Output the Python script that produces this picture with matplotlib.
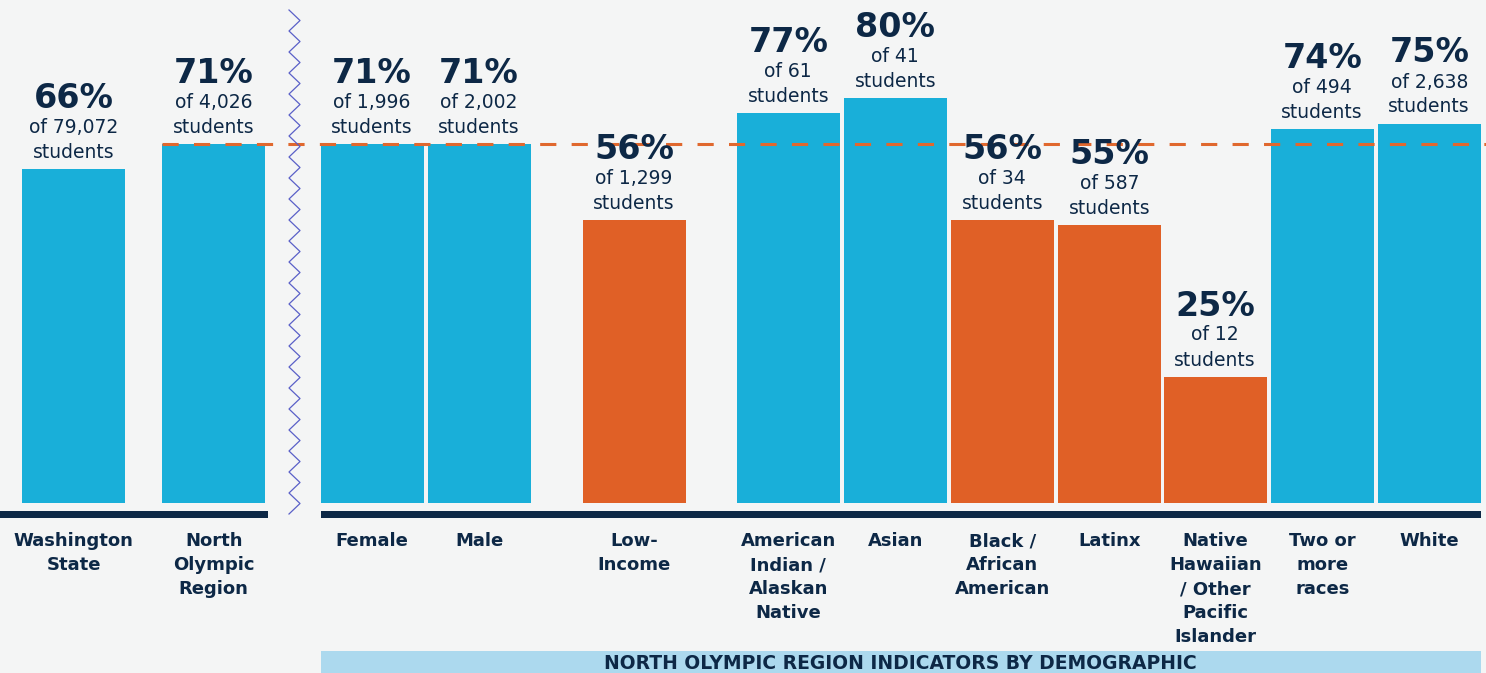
import matplotlib.pyplot as plt
from matplotlib.patches import Rectangle
import numpy as np

# data
categories = ["Washington\nState", "North\nOlympic\nRegion", "Female", "Male",
              "Low-\nIncome", "American\nIndian /\nAlaskan\nNative", "Asian",
              "Black /\nAfrican\nAmerican", "Latinx",
              "Native\nHawaiian\n/ Other\nPacific\nIslander",
              "Two or\nmore\nraces", "White"]
pct = [66, 71, 71, 71, 56, 77, 80, 56, 55, 25, 74, 75]
counts = ["79,072", "4,026", "1,996", "2,002", "1,299", "61", "41", "34",
          "587", "12", "494", "2,638"]
region_pct = 71
band_title = "NORTH OLYMPIC REGION INDICATORS BY DEMOGRAPHIC"

# layout / style
xpos = [0, 1.31, 2.79, 3.79, 5.24, 6.68, 7.68, 8.68, 9.68, 10.67, 11.67, 12.67]
BLUE = '#19afd9'
ORANGE = '#e06026'
NAVY = '#0d2846'
BG = '#f4f5f5'
colors = [BLUE, BLUE, BLUE, BLUE, ORANGE, BLUE, BLUE, ORANGE, ORANGE, ORANGE, BLUE, BLUE]
width = 0.963

fig = plt.figure(figsize=(14.86, 6.73), dpi=100, facecolor=BG)
ax = fig.add_axes([0, 0, 1, 1])
ax.set_facecolor(BG)
ax.axis('off')

px_x = 107.0   # pixels per slot
px_y = 5.06    # pixels per percent
xmin = -73.5 / px_x
ax.set_xlim(xmin, xmin + 1486 / px_x)
ax.set_ylim(-(673 - 503) / px_y, 503 / px_y)

ax.bar(xpos, pct, width=width, color=colors, zorder=2)

# region reference line
ax.plot([xpos[1] - width / 2, xmin + 1486 / px_x], [region_pct, region_pct],
        color='#e0682e', lw=2.2, dashes=(5.3, 5.0), zorder=3)

# baselines
yb0, yb1 = -(518 - 503) / px_y, -(511 - 503) / px_y
ax.add_patch(Rectangle((xmin, yb0), xpos[1] + width / 2 + 0.03 - xmin, yb1 - yb0,
                       color=NAVY, lw=0, zorder=3))
ax.add_patch(Rectangle((xpos[2] - width / 2, yb0), xpos[-1] - xpos[2] + width, yb1 - yb0,
                       color=NAVY, lw=0, zorder=3))

# zigzag break marker
zx = (294.5 - 73.5) / px_x
amp = 5.5 / px_x
zy = np.arange(10, 516, 10.5)
zyv = (503 - zy) / px_y
zxv = zx + amp * np.where(np.arange(len(zy)) % 2 == 0, -1, 1)
ax.plot(zxv, zyv, color='#5a60c8', lw=0.9, zorder=3)

# value labels
for x, v, n in zip(xpos, pct, counts):
    ax.annotate("students", (x, v), xytext=(0, 11), textcoords='offset pixels',
                ha='center', va='baseline', fontsize=13.5, color=NAVY, zorder=5)
    ax.annotate("of " + n, (x, v), xytext=(0, 36), textcoords='offset pixels',
                ha='center', va='baseline', fontsize=13.5, color=NAVY, zorder=5)
    ax.annotate(f"{v}%", (x, v), xytext=(0, 61), textcoords='offset pixels',
                ha='center', va='baseline', fontsize=24, fontweight='heavy',
                color=NAVY, zorder=5)

# category labels
for x, c in zip(xpos, categories):
    ax.annotate(c, (x, 0), xytext=(0, -29), textcoords='offset pixels',
                ha='center', va='top', fontsize=13, fontweight='bold',
                color=NAVY, linespacing=1.43, multialignment='center')

# bottom band
by0, by1 = -(673 - 503) / px_y, -(651 - 503) / px_y
ax.add_patch(Rectangle((xpos[2] - width / 2, by0), xpos[-1] - xpos[2] + width, by1 - by0,
                       color='#acd9ee', lw=0, zorder=1))
ax.text((xpos[2] - width / 2 + xpos[-1] + width / 2) / 2, -(669 - 503) / px_y, band_title,
        ha='center', va='baseline', fontsize=13.5, fontweight='bold', color=NAVY, zorder=4)

fig.savefig("out.png", dpi=100, facecolor=BG)
